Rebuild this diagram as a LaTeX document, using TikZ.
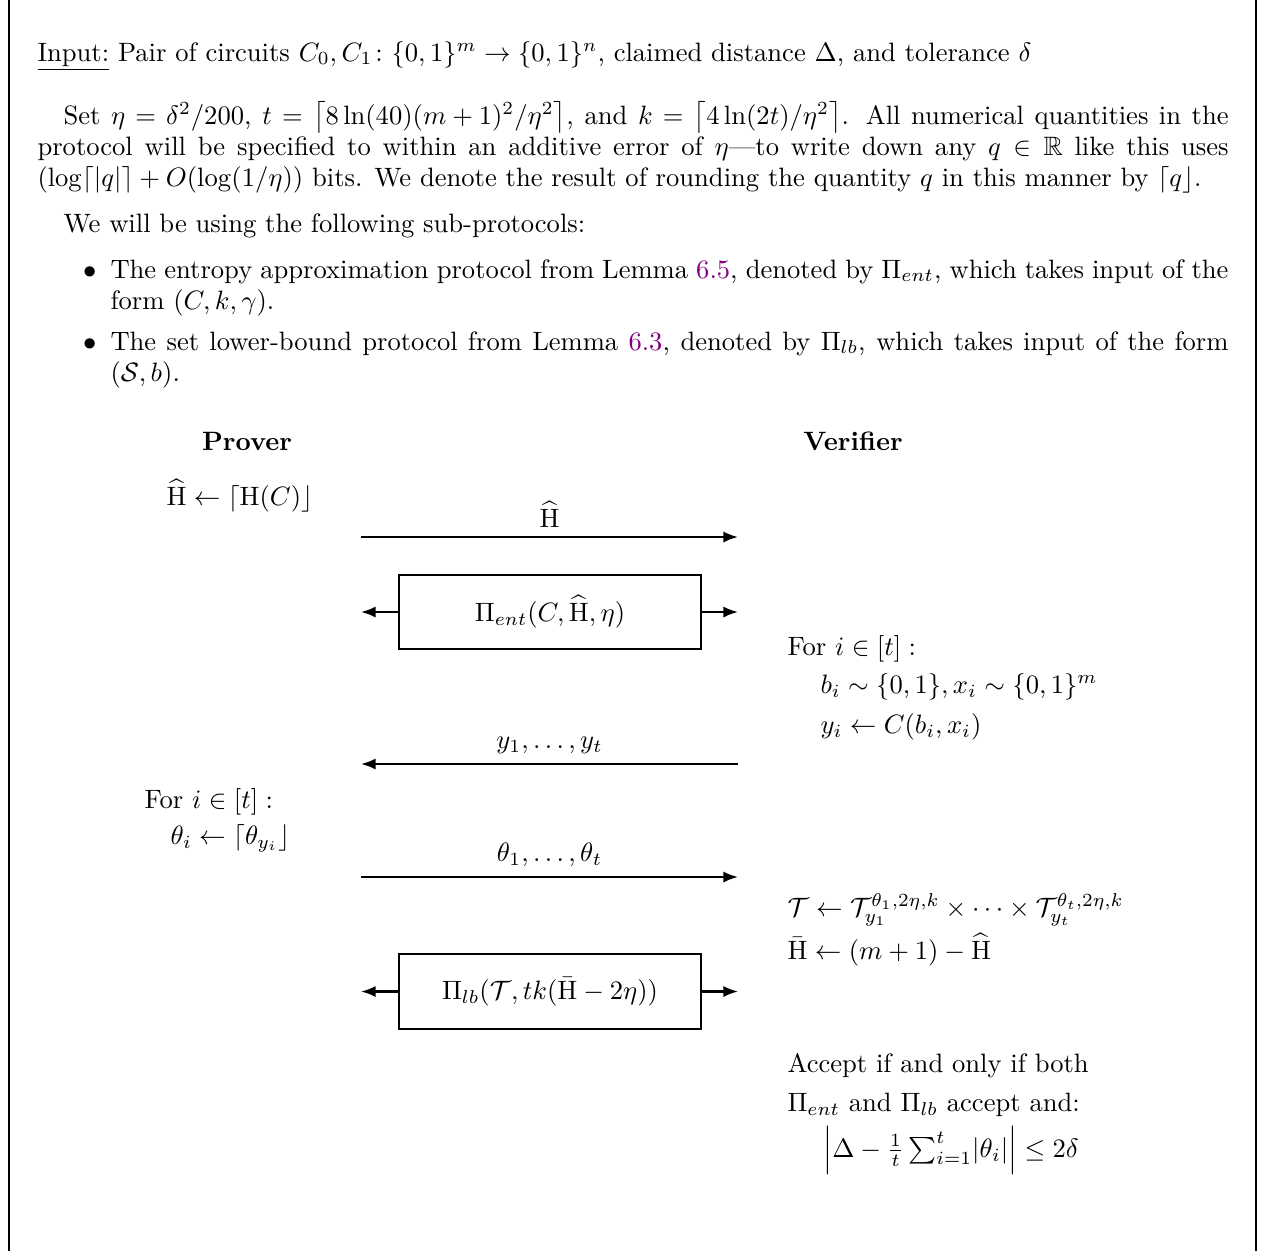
\documentclass[tikz,border=0pt]{standalone}
\usepackage{amsmath,amssymb}
\usetikzlibrary{arrows.meta}
\definecolor{linkpurple}{rgb}{0.5,0,0.5}
\newcommand{\Hhat}{\widehat{\mathrm{H}}}
\newcommand{\Hbar}{\bar{\mathrm{H}}}
\newcommand{\lnk}[1]{\textcolor{linkpurple}{#1}}
\newcommand{\jpar}[2]{\parbox[t]{#1}{\fontsize{10}{11.67}\selectfont\parindent=0pt\parfillskip=0pt plus 1fil #2}}
\begin{document}
\begin{tikzpicture}[x=0.3763pt,y=-0.3763pt,
  txt/.style={inner sep=0pt, anchor=base west},
  msg/.style={line width=0.8pt, -{Latex[length=5.5pt,width=4.2pt]}},
  protobox/.style={draw, line width=0.8pt, minimum width=113.6pt, minimum height=28pt, inner sep=0pt},
  frameline/.style={line width=0.5pt},
  head/.style={inner sep=0pt, anchor=base, font=\bfseries}]
\useasboundingbox (0,0) rectangle (1262,1251);
\draw[frameline] (9,0) -- (9,1251);
\draw[frameline] (1256,0) -- (1256,1251);

% header text
\node[txt] (input) at (37,61) {\underline{Input:} Pair of circuits $C_0,C_1\colon\{0,1\}^m\to\{0,1\}^n$, claimed distance $\Delta$, and tolerance $\delta$};
\node[txt] (setpar) at (37,124) {\jpar{448.2pt}{\hspace*{9.8pt}Set $\eta=\delta^2/200$, $t=\left\lceil 8\ln(40)(m+1)^2/\eta^2\right\rceil$, and $k=\left\lceil 4\ln(2t)/\eta^2\right\rceil$. All numerical quantities in the\linebreak protocol will be specified to within an additive error of $\eta$---to write down any $q\in\mathbb{R}$ like this uses\linebreak $(\log\lceil|q|\rceil+O(\log(1/\eta))$ bits. We denote the result of rounding the quantity $q$ in this manner by $\lceil q\rfloor$.}};
\node[txt] (using) at (63,232) {We will be using the following sub-protocols:};
\node[inner sep=0pt, anchor=base east] (b1) at (97,278) {$\bullet$};
\node[txt] (item1) at (110,278) {\jpar{420.7pt}{The entropy approximation protocol from Lemma \lnk{6.5}, denoted by $\Pi_{ent}$, which takes input of the\linebreak form $(C,k,\gamma)$.}};
\node[inner sep=0pt, anchor=base east] (b2) at (97,350) {$\bullet$};
\node[txt] (item2) at (110,350) {\jpar{420.7pt}{The set lower-bound protocol from Lemma \lnk{6.3}, denoted by $\Pi_{lb}$, which takes input of the form\linebreak $(\mathcal{S},b)$.}};

% headings
\node[head] (prover) at (247,450) {Prover};
\node[head] (verifier) at (853,450) {Verifier};

% prover side
\node[txt] (p1) at (166,505) {$\Hhat\leftarrow\lceil\mathrm{H}(C)\rfloor$};
\node[txt] (p2) at (144,808) {For $i\in[t]:$};
\node[txt] (p3) at (170,844) {$\theta_i\leftarrow\lceil\theta_{y_i}\rfloor$};

% verifier side
\node[txt] (v1) at (787,655) {For $i\in[t]:$};
\node[txt] (v2) at (820,693) {$b_i\sim\{0,1\},x_i\sim\{0,1\}^m$};
\node[txt] (v3) at (820,733) {$y_i\leftarrow C(b_i,x_i)$};
\node[txt] (v4) at (787,916) {$\mathcal{T}\leftarrow\mathcal{T}_{y_1}^{\theta_1,2\eta,k}\times\cdots\times\mathcal{T}_{y_t}^{\theta_t,2\eta,k}$};
\node[txt] (v5) at (787,959) {$\Hbar\leftarrow(m+1)-\Hhat$};
\node[txt] (v6) at (787,1072) {Accept if and only if both};
\node[txt] (v7) at (787,1111) {$\Pi_{ent}$ and $\Pi_{lb}$ accept and:};
\node[txt] (v8) at (823,1157) {$\left|\Delta-\frac{1}{t}\sum_{i=1}^{t}\lvert\theta_i\rvert\right|\le 2\delta$};

% messages
\coordinate (m1a) at (361,537); \coordinate (m1b) at (738,537);
\draw[msg] (m1a) -- node[above] {$\Hhat$} (m1b);

\node[protobox] (ent) at (550,612) {$\Pi_{ent}(C,\Hhat,\eta)$};
\coordinate (entL) at (361,612); \coordinate (entR) at (738,612);
\draw[msg] (ent.west) -- (entL);
\draw[msg] (ent.east) -- (entR);

\coordinate (m2a) at (738,764); \coordinate (m2b) at (361,764);
\draw[msg] (m2a) -- node[above] {$y_1,\dots,y_t$} (m2b);

\coordinate (m3a) at (361,877); \coordinate (m3b) at (738,877);
\draw[msg] (m3a) -- node[above] {$\theta_1,\dots,\theta_t$} (m3b);

\node[protobox] (lb) at (550,991.5) {$\Pi_{lb}(\mathcal{T},tk(\Hbar-2\eta))$};
\coordinate (lbL) at (361,991.5); \coordinate (lbR) at (738,991.5);
\draw[msg] (lb.west) -- (lbL);
\draw[msg] (lb.east) -- (lbR);
\end{tikzpicture}
\end{document}
